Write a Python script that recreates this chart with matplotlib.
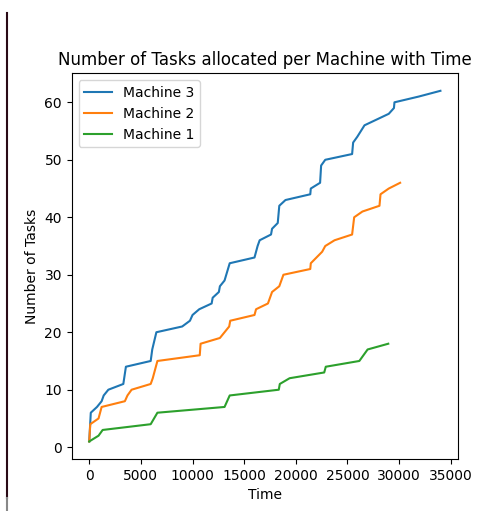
import matplotlib
matplotlib.use('Agg')
import matplotlib.pyplot as plt
from matplotlib.lines import Line2D

# cumulative tasks per machine (time, count)
t3 = [0, 150, 750, 1200, 1400, 1850, 3300, 3550, 5950, 6100,
      6500, 9000, 9750, 10000, 10650, 11850, 11950, 12550, 12650, 13100,
      13600, 16000, 16300, 16500, 17600, 17700, 18250, 18400, 19000, 21400,
      21450, 22350, 22450, 22850, 25450, 25550, 25950, 26650, 29000, 29500,
      29550, 31900, 34000]
n3 = [1, 6, 7, 8, 9, 10, 11, 14, 15, 17,
      20, 21, 22, 23, 24, 25, 26, 27, 28, 29,
      32, 33, 35, 36, 37, 38, 39, 42, 43, 44,
      45, 46, 49, 50, 51, 53, 54, 56, 58, 59,
      60, 61, 62]

t2 = [0, 100, 900, 1200, 3450, 3700, 4100, 5950, 6150, 6600,
      10700, 10780, 12650, 13100, 13550, 13650, 16000, 16150, 17300, 17700,
      18400, 18800, 21400, 21450, 22550, 22850, 23750, 25450, 25650, 26450,
      28100, 28200, 29000, 30100]
n2 = [1, 4, 5, 7, 8, 9, 10, 11, 12, 15,
      16, 18, 19, 20, 21, 22, 23, 24, 25, 27,
      28, 30, 31, 32, 34, 35, 36, 37, 40, 41,
      42, 44, 45, 46]

t1 = [0, 900, 1300, 5950, 6600, 13100, 13600, 18350, 18450, 19400,
      22750, 22900, 26150, 26950, 28950]
n1 = [1, 2, 3, 4, 6, 7, 9, 10, 11, 12,
      13, 14, 15, 17, 18]

fig = plt.figure(figsize=(5.03, 5.11), dpi=100)
ax = fig.add_axes([0.1425, 0.1018, 0.768, 0.7548])

ax.plot(t3, n3, label="Machine 3")
ax.plot(t2, n2, label="Machine 2")
ax.plot(t1, n1, label="Machine 1")

ax.set_title("Number of Tasks allocated per Machine with Time")
ax.set_xlabel("Time")
ax.set_ylabel("Number of Tasks")
ax.legend(loc="upper left")

# thin dark strip at the left edge
fig.add_artist(Line2D([6.5/503, 6.5/503], [1-13/511, 1-498/511],
                      transform=fig.transFigure, color="#2a0a16", lw=1.5))
fig.add_artist(Line2D([6.5/503, 6.5/503], [1-498/511, 0],
                      transform=fig.transFigure, color="#888888", lw=1.5))

fig.savefig("out.png", dpi=100)
